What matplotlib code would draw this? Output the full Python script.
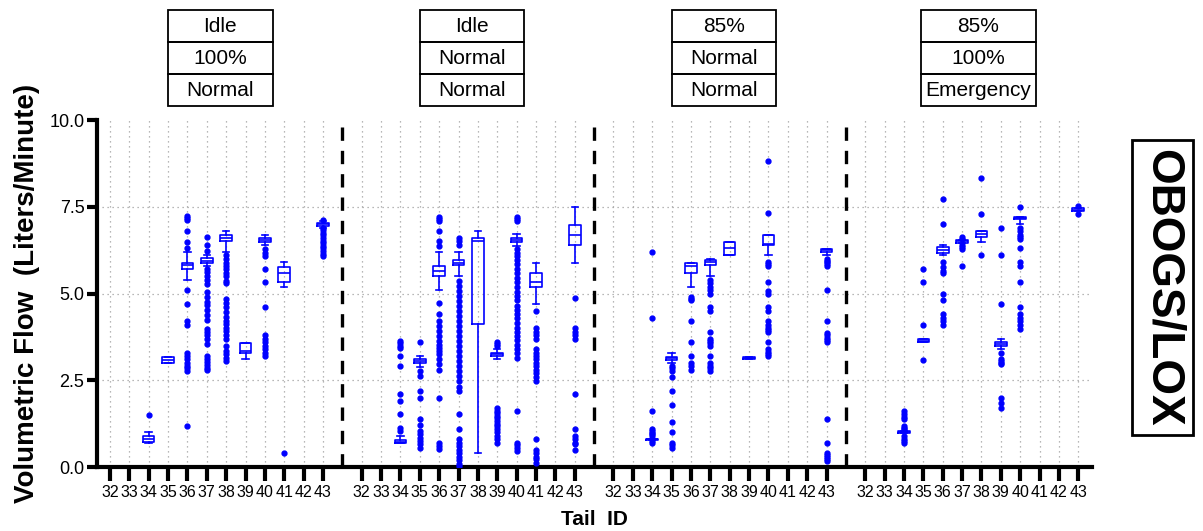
import matplotlib
matplotlib.use("Agg")
import matplotlib.pyplot as plt
from matplotlib.patches import Rectangle
from matplotlib.transforms import blended_transform_factory

plt.rcParams['font.family'] = ['Liberation Sans', 'DejaVu Sans']

tail_ids = [32, 33, 34, 35, 36, 37, 38, 39, 40, 41, 42, 43]

# condition headers for each panel (engine, concentration, flow mode)
headers = [
    ["Idle", "100%", "Normal"],
    ["Idle", "Normal", "Normal"],
    ["85%", "Normal", "Normal"],
    ["85%", "100%", "Emergency"],
]

# tail: (whislo, q1, med, q3, whishi, fliers)
idle_100_normal = {
    34: (0.70, 0.72, 0.80, 0.88, 1.00, [1.51]),
    35: (3.01, 3.01, 3.09, 3.17, 3.17, []),
    36: (5.39, 5.72, 5.81, 5.89, 6.19,
         [7.22, 7.18, 7.12, 6.80, 6.49, 6.30, 5.10, 4.69, 4.21, 4.09, 3.30, 3.20,
          3.10, 3.00, 2.90, 2.85, 2.77, 1.19]),
    37: (5.80, 5.89, 5.95, 6.01, 6.10,
         [6.62, 6.39, 6.23, 5.70, 5.61, 5.51, 5.38, 5.28, 5.05, 4.91, 4.76, 4.66,
          4.52, 4.37, 4.23, 3.99, 3.89, 3.80, 3.70, 3.55, 3.21, 3.12, 3.02, 2.93,
          2.84, 2.79]),
    38: (6.20, 6.52, 6.60, 6.68, 6.81,
         [6.10, 6.00, 5.89, 5.79, 5.70, 5.60, 5.51, 5.36, 5.31, 4.84, 4.73, 4.60,
          4.46, 4.31, 4.21, 4.12, 4.02, 3.93, 3.80, 3.69, 3.49, 3.35, 3.25, 3.15,
          3.06]),
    39: (3.10, 3.30, 3.33, 3.58, 3.58, []),
    40: (6.39, 6.49, 6.54, 6.59, 6.70,
         [6.28, 6.18, 6.09, 5.70, 5.32, 4.60, 3.80, 3.68, 3.59, 3.49, 3.40, 3.30, 3.20]),
    41: (5.19, 5.32, 5.60, 5.77, 5.91, [0.39]),
    43: (6.90, 6.95, 6.99, 7.02, 7.10,
         [7.12, 6.88, 6.82, 6.75, 6.68, 6.60, 6.52, 6.45, 6.38, 6.30, 6.22, 6.15, 6.09]),
}

idle_normal_normal = {
    34: (0.68, 0.68, 0.73, 0.78, 0.89,
         [3.63, 3.56, 3.50, 3.44, 3.20, 2.91, 2.10, 1.90, 1.52, 1.13, 1.04]),
    35: (2.89, 2.99, 3.05, 3.11, 3.20,
         [3.60, 2.77, 2.61, 2.19, 2.00, 1.39, 1.20, 1.04, 0.95, 0.85, 0.75, 0.66, 0.56]),
    36: (5.10, 5.51, 5.65, 5.78, 6.20,
         [7.20, 7.15, 7.10, 6.80, 6.51, 6.37, 4.72, 4.40, 4.21, 4.06, 3.92, 3.78,
          3.63, 3.53, 3.44, 3.34, 3.25, 3.10, 2.96, 2.80, 2.00, 0.70, 0.61, 0.51]),
    37: (5.51, 5.82, 5.89, 5.97, 6.20,
         [6.60, 6.50, 6.40, 5.36, 5.22, 5.07, 4.93, 4.78, 4.64, 4.49, 4.35, 4.20,
          4.06, 3.91, 3.77, 3.63, 3.48, 3.34, 3.19, 3.05, 2.90, 2.76, 2.61, 2.47,
          2.32, 2.18, 1.52, 1.09, 0.80, 0.70, 0.60, 0.50, 0.40, 0.30, 0.20, 0.10, 0.03]),
    38: (0.39, 4.12, 6.52, 6.59, 6.81, []),
    39: (3.10, 3.20, 3.25, 3.30, 3.39,
         [3.60, 3.55, 3.50, 1.70, 1.62, 1.55, 1.47, 1.40, 1.32, 1.25, 1.17, 1.10,
          1.00, 0.90, 0.80, 0.70]),
    40: (6.38, 6.49, 6.54, 6.59, 6.71,
         [7.20, 7.15, 7.10, 6.28, 6.18, 6.08, 5.98, 5.85, 5.72, 5.60, 5.45, 5.32,
          5.20, 5.05, 4.92, 4.80, 4.65, 4.52, 4.40, 4.28, 4.15, 4.02, 3.90, 3.78,
          3.65, 3.52, 3.40, 3.28, 3.15, 1.60, 0.70, 0.62, 0.54, 0.46]),
    41: (4.69, 5.20, 5.32, 5.58, 5.89,
         [4.50, 4.00, 3.90, 3.80, 3.70, 3.40, 3.30, 3.20, 3.10, 3.00, 2.90, 2.80,
          2.70, 2.60, 2.48, 0.80, 0.50, 0.40, 0.30, 0.22, 0.13]),
    43: (5.89, 6.40, 6.70, 6.98, 7.50,
         [4.88, 4.00, 3.90, 3.80, 3.70, 2.10, 1.09, 0.90, 0.80, 0.70, 0.65, 0.49]),
}

p85_normal_normal = {
    34: (0.78, 0.78, 0.80, 0.82, 0.82,
         [6.20, 4.29, 1.60, 1.09, 1.04, 0.99, 0.94, 0.89, 0.74, 0.70]),
    35: (2.99, 3.09, 3.13, 3.18, 3.30,
         [2.90, 2.84, 2.77, 2.60, 2.19, 1.80, 1.30, 1.00, 0.70, 0.63, 0.56]),
    36: (5.19, 5.60, 5.80, 5.88, 5.88,
         [4.90, 4.85, 4.80, 4.21, 3.60, 3.20, 3.00, 2.90, 2.80]),
    37: (5.51, 5.83, 5.90, 5.96, 5.99,
         [5.40, 5.30, 5.20, 5.10, 4.98, 4.60, 4.50, 3.90, 3.70, 3.63, 3.56, 3.50,
          3.20, 3.00, 2.90, 2.84, 2.77]),
    38: (6.11, 6.11, 6.30, 6.49, 6.49, []),
    39: (3.12, 3.12, 3.15, 3.18, 3.18, []),
    40: (6.11, 6.39, 6.42, 6.68, 6.68,
         [8.81, 7.31, 5.90, 5.85, 5.80, 5.32, 5.07, 4.98, 4.60, 4.50, 4.20, 4.10,
          4.00, 3.94, 3.88, 3.60, 3.40, 3.32, 3.26, 3.20]),
    43: (6.11, 6.20, 6.24, 6.28, 6.28,
         [6.00, 5.95, 5.90, 5.85, 5.80, 5.10, 4.20, 3.87, 3.80, 3.73, 3.66, 3.60,
          1.39, 0.70, 0.41, 0.35, 0.29, 0.23, 0.17]),
}

p85_100_emergency = {
    34: (0.98, 0.98, 1.01, 1.04, 1.04,
         [1.60, 1.53, 1.45, 1.38, 1.18, 1.12, 1.09, 0.89, 0.82, 0.76, 0.70]),
    35: (3.60, 3.60, 3.64, 3.68, 3.68, [5.70, 5.32, 4.09, 3.09]),
    36: (6.11, 6.18, 6.26, 6.33, 6.40,
         [7.72, 7.00, 5.90, 5.75, 5.65, 5.60, 5.00, 4.81, 4.40, 4.30, 4.20, 4.09]),
    37: (6.45, 6.45, 6.50, 6.55, 6.55, [6.63, 6.57, 6.40, 6.35, 6.28, 5.80]),
    38: (6.49, 6.63, 6.71, 6.80, 6.80, [8.32, 7.30, 6.10]),
    39: (3.39, 3.49, 3.55, 3.60, 3.70,
         [6.90, 6.10, 4.69, 3.30, 3.10, 3.05, 3.00, 2.96, 2.00, 1.85, 1.71]),
    40: (7.00, 7.14, 7.17, 7.21, 7.21,
         [7.50, 6.90, 6.80, 6.70, 6.62, 6.57, 6.30, 5.90, 5.80, 5.32, 4.60, 4.40,
          4.30, 4.20, 4.10, 3.98]),
    43: (7.38, 7.38, 7.41, 7.45, 7.45, [7.53, 7.30]),
}

panels = [idle_100_normal, idle_normal_normal, p85_normal_normal, p85_100_emergency]

blue = "#0000ff"
gap = len(tail_ids) + 1  # one empty slot between panels

fig = plt.figure(figsize=(12.03, 5.31), dpi=100)
ax = fig.add_axes([0.0806, 0.1205, 0.827, 0.6535])

stats, positions = [], []
for g, panel in enumerate(panels):
    for i, tail in enumerate(tail_ids):
        if tail not in panel:
            continue
        lo, q1, med, q3, hi, fl = panel[tail]
        stats.append(dict(whislo=lo, q1=q1, med=med, q3=q3, whishi=hi, fliers=fl))
        positions.append(g * gap + i)

ax.bxp(stats, positions=positions, widths=0.6, capwidths=0.33, manage_ticks=False,
       boxprops=dict(color=blue, lw=1.2),
       whiskerprops=dict(color=blue, lw=1.2),
       capprops=dict(color=blue, lw=1.2),
       medianprops=dict(color=blue, lw=1.2),
       flierprops=dict(marker='o', markersize=3.5, markerfacecolor=blue,
                       markeredgecolor=blue, linestyle='none'),
       zorder=3)

# x ticks: every tail id in every panel
xticks = [g * gap + i for g in range(len(panels)) for i in range(len(tail_ids))]
xlabels = [str(t) for g in range(len(panels)) for t in tail_ids]
ax.set_xticks(xticks)
ax.set_xticklabels(xlabels, fontsize=11.5)
ax.set_xlim(-0.67, len(panels) * gap - 1.3)

ax.set_ylim(0, 10)
ax.set_yticks([0, 2.5, 5, 7.5, 10])
ax.set_yticklabels(["0.0", "2.5", "5.0", "7.5", "10.0"], fontsize=13)

# dotted grid
for x in xticks:
    ax.axvline(x, color="#a0a0a0", lw=0.9, ls=(0, (1, 3)), zorder=1)
for y in [2.5, 5, 7.5]:
    ax.axhline(y, color="#a0a0a0", lw=0.9, ls=(0, (1, 3)), zorder=1)

# panel separators
for g in range(1, len(panels)):
    ax.axvline(g * gap - 1, color="black", lw=2.4, ls=(0, (4, 3)), zorder=2)

for s in ["top", "right"]:
    ax.spines[s].set_visible(False)
for s in ["left", "bottom"]:
    ax.spines[s].set_linewidth(3)
ax.tick_params(axis="y", direction="out", length=7, width=3, pad=2)
ax.tick_params(axis="x", direction="out", length=10, width=3, pad=3)

ax.set_ylabel("Volumetric Flow  (Liters/Minute)", fontsize=20, fontweight="bold",
              labelpad=7)
ax.set_xlabel("Tail  ID", fontsize=15, fontweight="bold", labelpad=7)

# condition header tables above each panel
trans = blended_transform_factory(ax.transData, ax.transAxes)
row_h = 0.0922
for g, rows in enumerate(headers):
    cx = g * gap + (5.85 if g == 3 else 5.7)
    w = 5.9 if g == 3 else 5.4
    for r, txt in enumerate(rows):
        y0 = 1.040 + (2 - r) * row_h
        ax.add_patch(Rectangle((cx - w / 2, y0), w, row_h, transform=trans,
                               fill=False, lw=1.3, ec="black", clip_on=False))
        ax.text(cx, y0 + row_h / 2, txt, transform=trans, ha="center", va="center",
                fontsize=15, clip_on=False)

fig.text(0.9663, 0.4586, "OBOGS/LOX", rotation=-90, ha="center", va="center",
         fontsize=33, fontweight="bold",
         bbox=dict(boxstyle="square,pad=0.18", fc="white", ec="black", lw=2))

fig.savefig("out.png", dpi=100)
